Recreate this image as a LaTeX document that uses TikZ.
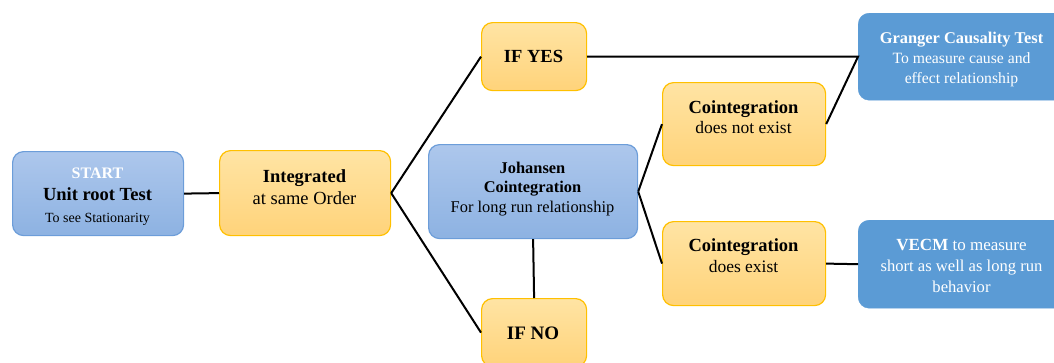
\documentclass[tikz,border=0pt]{standalone}
\usepackage{fontspec}
\setmainfont{Liberation Serif}
\definecolor{btop}{HTML}{ADC7EC}
\definecolor{bbot}{HTML}{8DB2E2}
\definecolor{bborder}{HTML}{6C9DD9}
\definecolor{ytop}{HTML}{FFE4A4}
\definecolor{ybot}{HTML}{FFD37A}
\definecolor{yborder}{HTML}{FFC000}
\definecolor{sblue}{HTML}{5B9BD5}
\begin{document}
\begin{tikzpicture}[x=1pt,y=-1pt,
  bluebox/.style={draw=bborder,line width=1.2pt,rounded corners=11pt,top color=btop,bottom color=bbot,anchor=north west,inner sep=0pt},
  yelbox/.style={draw=yborder,line width=1.2pt,rounded corners=11pt,top color=ytop,bottom color=ybot,anchor=north west,inner sep=0pt},
  solidbox/.style={draw=sblue,fill=sblue,rounded corners=11pt,anchor=north west,inner sep=0pt},
  link/.style={line width=2pt,black},
  txt/.style={align=center,inner sep=0pt,text=black}]
\clip (0,0) rectangle (1054,362);
\useasboundingbox (0,0) rectangle (1054,362);
% boxes
\node[bluebox,minimum width=171pt,minimum height=84pt] (start) at (12,151) {};
\node[yelbox,minimum width=171pt,minimum height=85pt] (integ) at (219,150) {};
\node[yelbox,minimum width=105pt,minimum height=68pt] (ifyes) at (481,22) {};
\node[yelbox,minimum width=105pt,minimum height=68pt] (ifno) at (481,298) {};
\node[bluebox,minimum width=209pt,minimum height=94pt] (joh) at (428,144) {};
\node[yelbox,minimum width=163pt,minimum height=83pt] (cne) at (662,82) {};
\node[yelbox,minimum width=163pt,minimum height=84pt] (ce) at (662,221) {};
\node[solidbox,minimum width=207pt,minimum height=87pt] (granger) at (858,13) {};
\node[solidbox,minimum width=207pt,minimum height=88pt] (vecm) at (858,220) {};
% texts
\node[txt,font=\fontsize{16}{22}\selectfont] (tstart) at (97.5,197) {{\bfseries\color{white}START}\\
  {\fontsize{18.5}{22}\selectfont\bfseries Unit root Test}\\
  {\fontsize{14}{21}\selectfont To see Stationarity}};
\node[txt,font=\fontsize{18.5}{22}\selectfont] (tinteg) at (304.5,187) {\textbf{Integrated}\\at same Order};
\node[txt,font=\fontsize{18.5}{22}\selectfont\bfseries] (tifyes) at (533.5,56.5) {IF YES};
\node[txt,font=\fontsize{19}{22}\selectfont\bfseries] (tifno) at (533,333) {IF NO};
\node[txt,font=\fontsize{16.4}{19.5}\selectfont] (tjoh) at (532.5,189) {\textbf{Johansen}\\
  \textbf{Cointegration}\\
  For long run relationship};
\node[txt,font=\fontsize{17.5}{20}\selectfont] (tcne) at (743.5,117) {{\fontsize{18.5}{20}\selectfont\bfseries Cointegration}\\
  does not exist};
\node[txt,font=\fontsize{17.5}{21}\selectfont] (tce) at (743.5,256) {{\fontsize{18.5}{21}\selectfont\bfseries Cointegration}\\
  does exist};
\node[txt,text=white,font=\fontsize{15.7}{20}\selectfont] (tgranger) at (961.5,59) {{\fontsize{16.4}{20}\selectfont\bfseries Granger Causality Test}\\
  To measure cause and\\
  effect relationship};
\node[txt,text=white,font=\fontsize{16.6}{21}\selectfont] (tvecm) at (961.5,266) {{\fontsize{17}{21}\selectfont\textbf{VECM} to measure}\\
  short as well as long run\\
  behavior};
% connectors
\draw[link] (start.east) -- (integ.west);
\draw[link] (integ.east) -- (ifyes.west);
\draw[link] (integ.east) -- (ifno.west);
\draw[link] (ifyes.east) -- (granger.west) -- (cne.east);
\draw[link] (joh.east) -- (cne.west);
\draw[link] (joh.east) -- (ce.west);
\draw[link] (joh.south) -- (ifno.north);
\draw[link] (ce.east) -- (vecm.west);
\end{tikzpicture}
\end{document}
